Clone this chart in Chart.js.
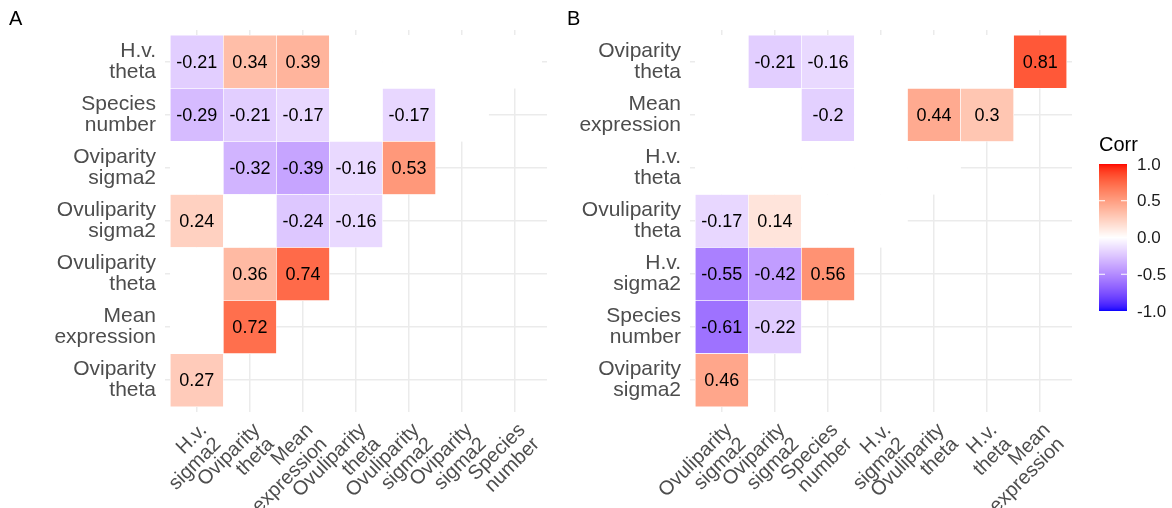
<!DOCTYPE html>
<html>
<head>
<meta charset="utf-8">
<title>Correlation heatmaps</title>
<script src="https://cdn.jsdelivr.net/npm/chart.js@4.4.1/dist/chart.umd.min.js"></script>
<style>
  html, body { margin: 0; padding: 0; background: #fff; }
  #wrap { position: relative; width: 1172px; height: 508px; background: #fff; overflow: hidden; }
  .panel { position: absolute; top: 0; height: 508px; }
  .tag { position: absolute; font: 20px/20px "Liberation Sans", Arial, sans-serif; color: #000; }
</style>
</head>
<body>
<div id="wrap">
  <div class="panel" style="left:0;width:560px"><canvas id="chartA" width="560" height="508"></canvas></div>
  <div class="panel" style="left:560px;width:612px"><canvas id="chartB" width="612" height="508"></canvas></div>
  <div class="tag" style="left:9px;top:8px">A</div>
  <div class="tag" style="left:567px;top:8px">B</div>
</div>
<script>
// Panel A: variable order along each axis and the lower-triangle correlations
// (row by row, top to bottom; null = not significant, drawn as a blank tile).
const xLabelsA = ['H.v. sigma2', 'Oviparity theta', 'Mean expression', 'Ovuliparity theta',
                  'Ovuliparity sigma2', 'Oviparity sigma2', 'Species number'];
const yLabelsA = ['H.v. theta', 'Species number', 'Oviparity sigma2', 'Ovuliparity sigma2',
                  'Ovuliparity theta', 'Mean expression', 'Oviparity theta'];
const corrA = [
  [-0.21, 0.34, 0.39, null, null, null, null],
  [-0.29, -0.21, -0.17, null, -0.17, null],
  [null, -0.32, -0.39, -0.16, 0.53],
  [0.24, null, -0.24, -0.16],
  [null, 0.36, 0.74],
  [null, 0.72],
  [0.27]
];

// Panel B
const xLabelsB = ['Ovuliparity sigma2', 'Oviparity sigma2', 'Species number', 'H.v. sigma2',
                  'Ovuliparity theta', 'H.v. theta', 'Mean expression'];
const yLabelsB = ['Oviparity theta', 'Mean expression', 'H.v. theta', 'Ovuliparity theta',
                  'H.v. sigma2', 'Species number', 'Oviparity sigma2'];
const corrB = [
  [null, -0.21, -0.16, null, null, null, 0.81],
  [null, null, -0.2, null, 0.44, 0.3],
  [null, null, null, null, null],
  [-0.17, 0.14, null, null],
  [-0.55, -0.42, 0.56],
  [-0.61, -0.22],
  [0.46]
];

// Colour bar ticks
const legendTicks = [1, 0.5, 0, -0.5, -1];
const legendTickLabels = ['1.0', '0.5', '0.0', '-0.5', '-1.0'];

const FONT = '"Liberation Sans", Arial, Helvetica, sans-serif';
Chart.defaults.font.family = FONT;

// ---- diverging blue / white / red scale, interpolated in CIELAB ----
function toLin(c) { c /= 255; return c <= 0.04045 ? c / 12.92 : Math.pow((c + 0.055) / 1.055, 2.4); }
function fromLin(c) {
  c = c <= 0.0031308 ? 12.92 * c : 1.055 * Math.pow(c, 1 / 2.4) - 0.055;
  return Math.round(Math.min(1, Math.max(0, c)) * 255);
}
const Xn = 0.95047, Yn = 1.0, Zn = 1.08883;
function f(t) { return t > 0.008856 ? Math.cbrt(t) : 7.787 * t + 16 / 116; }
function finv(t) { return t > 0.206893 ? t * t * t : (t - 16 / 116) / 7.787; }
function rgbToLab(rgb) {
  const r = toLin(rgb[0]), g = toLin(rgb[1]), b = toLin(rgb[2]);
  const X = (0.4124564 * r + 0.3575761 * g + 0.1804375 * b) / Xn;
  const Y = (0.2126729 * r + 0.7151522 * g + 0.0721750 * b) / Yn;
  const Z = (0.0193339 * r + 0.1191920 * g + 0.9503041 * b) / Zn;
  return [116 * f(Y) - 16, 500 * (f(X) - f(Y)), 200 * (f(Y) - f(Z))];
}
function labToRgb(lab) {
  const fy = (lab[0] + 16) / 116, fx = fy + lab[1] / 500, fz = fy - lab[2] / 200;
  const X = finv(fx) * Xn, Y = finv(fy) * Yn, Z = finv(fz) * Zn;
  const r = 3.2404542 * X - 1.5371385 * Y - 0.4985314 * Z;
  const g = -0.9692660 * X + 1.8760108 * Y + 0.0415560 * Z;
  const b = 0.0556434 * X - 0.2040259 * Y + 1.0572252 * Z;
  return [fromLin(r), fromLin(g), fromLin(b)];
}
const LAB_LOW = rgbToLab([0, 0, 255]);
const LAB_MID = rgbToLab([255, 255, 255]);
const LAB_HIGH = rgbToLab([255, 0, 0]);
function corrColor(v) {
  if (v === null || v === undefined) return '#ffffff';
  const t = Math.min(1, Math.abs(v));
  const end = v >= 0 ? LAB_HIGH : LAB_LOW;
  const lab = LAB_MID.map((m, i) => m + (end[i] - m) * t);
  const c = labToRgb(lab);
  return 'rgb(' + c[0] + ',' + c[1] + ',' + c[2] + ')';
}

// one floating bar per tile: column index on x, [row-0.5, row+0.5] on y
function tiles(matrix) {
  const out = [];
  matrix.forEach((row, r) => row.forEach((v, c) => out.push({ x: c, y: [r - 0.5, r + 0.5], v: v })));
  return out;
}

// correlation value printed in the middle of each significant tile
const valueLabels = {
  id: 'valueLabels',
  afterDatasetsDraw(chart) {
    const ctx = chart.ctx;
    const meta = chart.getDatasetMeta(0);
    const data = chart.data.datasets[0].data;
    ctx.save();
    ctx.font = '18px ' + FONT;
    ctx.fillStyle = '#000';
    ctx.textAlign = 'center';
    ctx.textBaseline = 'middle';
    meta.data.forEach((el, i) => {
      const v = data[i].v;
      if (v === null) return;
      const p = el.getCenterPoint();
      ctx.fillText(String(v), p.x, p.y + 1);
    });
    ctx.restore();
  }
};

// "Corr" colour bar legend to the right of panel B
const colorBar = {
  id: 'colorBar',
  afterDraw(chart) {
    const ctx = chart.ctx;
    const left = 539, width = 28, top = 164, height = 147;
    ctx.save();
    for (let i = 0; i < height; i++) {
      const v = 1 - 2 * (i + 0.5) / height;
      ctx.fillStyle = corrColor(v);
      ctx.fillRect(left, top + i, width, 1);
    }
    ctx.font = '17px ' + FONT;
    ctx.textAlign = 'left';
    ctx.textBaseline = 'middle';
    legendTicks.forEach((t, i) => {
      const y = top + (1 - t) / 2 * height;
      ctx.fillStyle = '#ffffff';
      if (t < 1 && t > -1) {
        ctx.fillRect(left, y - 0.5, 6, 1);
        ctx.fillRect(left + width - 6, y - 0.5, 6, 1);
      }
      ctx.fillStyle = '#1a1a1a';
      ctx.fillText(legendTickLabels[i], left + 38, y + 1);
    });
    ctx.font = '20px ' + FONT;
    ctx.textBaseline = 'alphabetic';
    ctx.fillStyle = '#000';
    ctx.fillText('Corr', left, 151);
    ctx.restore();
  }
};

function makeHeatmap(canvasId, xLabels, yLabels, matrix, axisWidth, padRight, extra) {
  const grid = { color: '#ebebeb', lineWidth: 1.5, drawTicks: false, offset: false };
  return new Chart(document.getElementById(canvasId), {
    type: 'bar',
    data: {
      datasets: [{
        data: tiles(matrix),
        backgroundColor: ctx => corrColor(ctx.raw ? ctx.raw.v : null),
        borderColor: '#ffffff',
        borderWidth: 0.6,
        borderSkipped: false,
        categoryPercentage: 1,
        barPercentage: 1
      }]
    },
    options: {
      responsive: false,
      animation: false,
      devicePixelRatio: 1,
      events: [],
      layout: { padding: { left: 0, top: 30, right: padRight, bottom: 0 } },
      plugins: { legend: { display: false }, tooltip: { enabled: false } },
      scales: {
        x: {
          type: 'linear', min: -0.6, max: 6.6, offset: false,
          grid: grid, border: { display: false },
          ticks: {
            stepSize: 1, includeBounds: false, autoSkip: false,
            minRotation: 45, maxRotation: 45, padding: 8, labelOffset: 7,
            color: '#4d4d4d', font: { size: 20, lineHeight: 1.0 },
            callback: v => (Number.isInteger(v) && xLabels[v]) ? xLabels[v].split(' ') : ''
          },
          afterFit: s => { s.height = 96; }
        },
        y: {
          type: 'linear', reverse: true, min: -0.6, max: 6.6, offset: false,
          grid: grid, border: { display: false },
          ticks: {
            stepSize: 1, includeBounds: false, autoSkip: false, padding: 9,
            color: '#4d4d4d', font: { size: 21, lineHeight: 1.0 },
            callback: v => (Number.isInteger(v) && yLabels[v]) ? yLabels[v].split(' ') : ''
          },
          afterFit: s => { s.width = axisWidth; }
        }
      }
    },
    plugins: [valueLabels].concat(extra)
  });
}

makeHeatmap('chartA', xLabelsA, yLabelsA, corrA, 165, 13, []);
makeHeatmap('chartB', xLabelsB, yLabelsB, corrB, 130, 100, [colorBar]);
</script>
</body>
</html>
